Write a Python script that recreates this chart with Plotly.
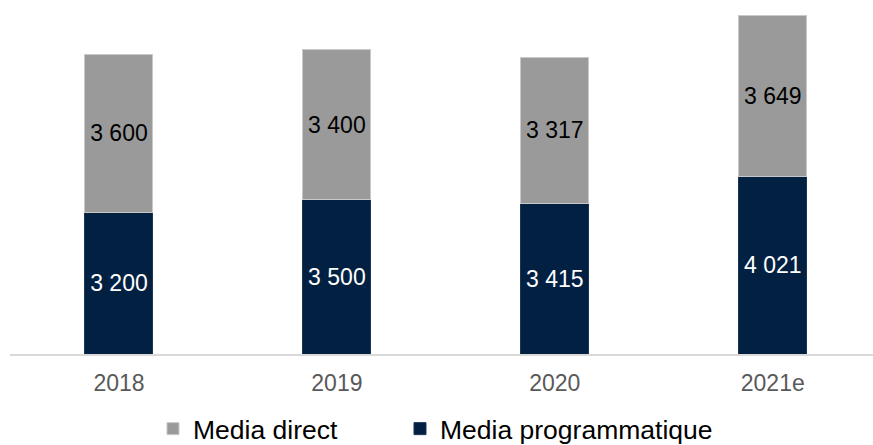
import plotly.graph_objects as go

# Chart data
years = ["2018", "2019", "2020", "2021e"]
media_programmatique = [3200, 3500, 3415, 4021]
media_direct = [3600, 3400, 3317, 3649]

NAVY = "#022142"
GRAY = "#9a9a9a"
FONT = "Liberation Sans, Arial, sans-serif"


def fmt(v):
    return f"{v:,}".replace(",", " ")


fig = go.Figure()
fig.add_trace(go.Bar(
    x=years, y=media_programmatique, name="Media programmatique",
    marker=dict(color=NAVY, line=dict(width=1, color="#1c3556")),
    text=[fmt(v) for v in media_programmatique],
    textposition="inside", insidetextanchor="middle", textangle=0,
    textfont=dict(color="white", size=23, family=FONT),
    width=0.312, legend="legend2",
))
fig.add_trace(go.Bar(
    x=years, y=media_direct, name="Media direct",
    marker=dict(color=GRAY, line=dict(width=1, color="#c9c9c9")),
    text=[fmt(v) for v in media_direct],
    textposition="inside", insidetextanchor="middle", textangle=0,
    textfont=dict(color="black", size=23, family=FONT),
    width=0.312, legend="legend",
))

legend_style = dict(
    orientation="h", xanchor="left", yanchor="top", y=-0.148,
    font=dict(size=26.5, color="black", family=FONT),
    bgcolor="rgba(0,0,0,0)",
)

fig.update_layout(
    width=873, height=445,
    barmode="stack",
    margin=dict(l=10, r=0, t=10, b=91, autoexpand=False),
    paper_bgcolor="white", plot_bgcolor="white",
    font=dict(family=FONT),
    showlegend=True,
    legend=dict(x=0.1657, **legend_style),
    legend2=dict(x=0.4519, **legend_style),
    xaxis=dict(
        range=[-0.5, 3.46], showgrid=False, zeroline=False,
        showline=True, linecolor="#d9d9d9", linewidth=2,
        ticks="", ticklabelstandoff=7,
        tickfont=dict(size=23, color="#595959", family=FONT),
    ),
    yaxis=dict(
        range=[0, 7800], visible=False, showgrid=False, zeroline=False,
    ),
)

fig.write_html("out.html")
